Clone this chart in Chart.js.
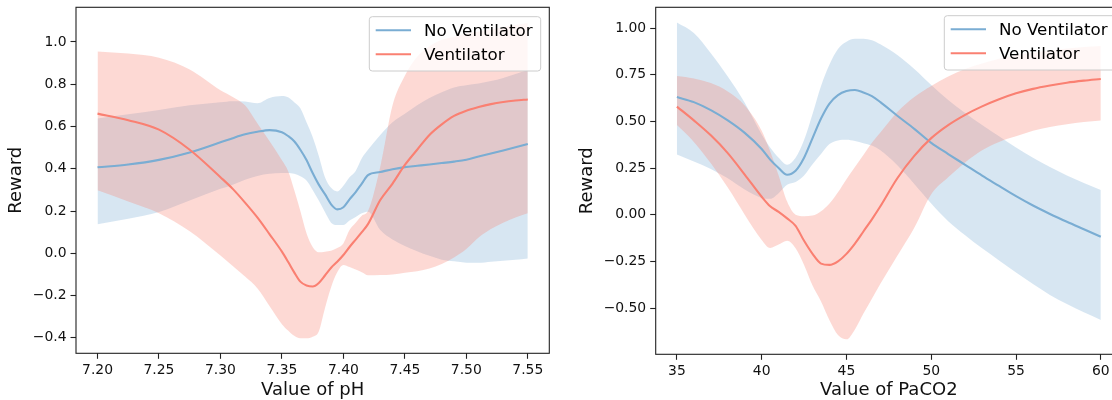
<!DOCTYPE html>
<html><head><meta charset="utf-8">
<script src="https://cdn.jsdelivr.net/npm/chart.js@4.4.0/dist/chart.umd.min.js"></script>
<style>
html,body{margin:0;padding:0;background:#fff;overflow:hidden;width:1112px;height:400px;}
#w1{position:absolute;left:0;top:0;width:556px;height:400px;}
#w2{position:absolute;left:556px;top:0;width:600px;height:400px;}
</style></head><body>
<div id="w1"><canvas id="c1" width="556" height="400"></canvas></div>
<div id="w2"><canvas id="c2" width="600" height="400"></canvas></div>
<script>
// ---------- data ----------
const seriesNames = ['No Ventilator', 'Ventilator'];

// pH panel
const phX = [7.20,7.225,7.25,7.275,7.30,7.31,7.32,7.33,7.34,7.35,7.355,7.36,7.365,7.37,7.375,7.38,7.385,7.39,7.395,7.40,7.405,7.41,7.415,7.42,7.43,7.44,7.45,7.46,7.47,7.48,7.49,7.50,7.51,7.52,7.53,7.54,7.55];
const phNoVent   = [0.407,0.42,0.442,0.477,0.525,0.545,0.563,0.575,0.583,0.573,0.555,0.53,0.49,0.441,0.38,0.325,0.28,0.232,0.208,0.218,0.255,0.29,0.33,0.37,0.385,0.398,0.408,0.414,0.42,0.427,0.434,0.443,0.458,0.472,0.487,0.502,0.517];
const phNoVentHi = [0.638,0.658,0.678,0.70,0.715,0.72,0.718,0.71,0.735,0.744,0.738,0.715,0.686,0.62,0.55,0.46,0.36,0.31,0.293,0.32,0.36,0.39,0.45,0.49,0.56,0.62,0.66,0.70,0.735,0.762,0.785,0.795,0.803,0.815,0.83,0.848,0.867];
const phNoVentLo = [0.137,0.163,0.195,0.25,0.305,0.325,0.348,0.366,0.376,0.38,0.38,0.376,0.365,0.345,0.30,0.25,0.195,0.145,0.134,0.134,0.155,0.172,0.19,0.197,0.11,0.065,0.035,0.01,-0.012,-0.03,-0.038,-0.044,-0.045,-0.04,-0.035,-0.03,-0.024];
const phVent     = [0.661,0.63,0.585,0.49,0.36,0.305,0.24,0.17,0.09,0.008,-0.04,-0.09,-0.134,-0.152,-0.157,-0.14,-0.105,-0.068,-0.04,-0.008,0.03,0.065,0.1,0.138,0.252,0.33,0.418,0.49,0.56,0.61,0.65,0.675,0.692,0.706,0.716,0.723,0.728];
const phVentHi   = [0.955,0.945,0.925,0.87,0.772,0.74,0.70,0.615,0.53,0.44,0.39,0.3,0.2,0.095,0.03,0.005,0.008,0.012,0.025,0.047,0.11,0.145,0.178,0.2,0.41,0.70,0.84,0.93,0.98,1.01,1.025,1.04,1.05,1.06,1.07,1.08,1.09];
const phVentLo   = [0.298,0.245,0.19,0.105,-0.01,-0.06,-0.11,-0.165,-0.25,-0.335,-0.365,-0.39,-0.402,-0.402,-0.395,-0.37,-0.26,-0.16,-0.09,-0.055,-0.065,-0.077,-0.09,-0.104,-0.103,-0.1,-0.092,-0.085,-0.072,-0.05,-0.02,0.02,0.075,0.115,0.145,0.17,0.19];
const phXTicks = [7.20,7.25,7.30,7.35,7.40,7.45,7.50,7.55];
const phYTicks = [-0.4,-0.2,0.0,0.2,0.4,0.6,0.8,1.0];

// PaCO2 panel
const pcX = [35,36,37,38,39,40,40.5,41,41.5,42,42.5,43,43.5,44,44.5,45,45.5,46,46.5,47,48,49,50,51,52,53,54,55,56,57,58,59,60];
const pcNoVent   = [0.63,0.603,0.56,0.505,0.438,0.352,0.295,0.25,0.214,0.235,0.305,0.41,0.515,0.595,0.64,0.662,0.668,0.655,0.635,0.603,0.53,0.46,0.385,0.325,0.267,0.209,0.154,0.099,0.049,0.004,-0.038,-0.078,-0.118];
const pcNoVentHi = [1.029,0.973,0.865,0.74,0.6,0.43,0.36,0.305,0.268,0.305,0.40,0.54,0.69,0.805,0.888,0.927,0.943,0.943,0.935,0.913,0.855,0.78,0.695,0.615,0.545,0.48,0.42,0.36,0.305,0.255,0.21,0.17,0.132];
const pcNoVentLo = [0.322,0.285,0.245,0.195,0.135,0.09,0.085,0.115,0.16,0.175,0.21,0.27,0.325,0.378,0.398,0.402,0.395,0.383,0.37,0.345,0.265,0.165,0.06,-0.035,-0.11,-0.18,-0.245,-0.31,-0.372,-0.43,-0.478,-0.523,-0.564];
const pcVent     = [0.579,0.505,0.425,0.33,0.215,0.096,0.045,0.015,-0.02,-0.06,-0.14,-0.21,-0.262,-0.269,-0.25,-0.21,-0.155,-0.09,-0.025,0.045,0.195,0.315,0.41,0.48,0.535,0.58,0.618,0.65,0.674,0.692,0.707,0.718,0.727];
const pcVentHi   = [0.743,0.73,0.705,0.66,0.585,0.45,0.34,0.21,0.07,0.0,-0.008,-0.005,0.018,0.06,0.12,0.19,0.255,0.32,0.385,0.44,0.55,0.63,0.69,0.74,0.78,0.81,0.835,0.855,0.868,0.88,0.89,0.898,0.904];
const pcVentLo   = [0.48,0.39,0.275,0.145,0.0,-0.135,-0.178,-0.16,-0.14,-0.18,-0.27,-0.38,-0.465,-0.565,-0.645,-0.668,-0.615,-0.53,-0.45,-0.37,-0.22,-0.07,0.11,0.2,0.28,0.345,0.39,0.42,0.45,0.47,0.485,0.497,0.505];
const pcXTicks = [35,40,45,50,55,60];
const pcYTicks = [-0.5,-0.25,0.0,0.25,0.5,0.75,1.0];

// ---------- styling ----------
const BLUE = 'rgb(122,173,211)';
const RED = 'rgb(250,128,114)';
const BLUE_BAND = 'rgba(122,173,211,0.3)';
const RED_BAND = 'rgba(250,128,114,0.3)';
const FONT = "'DejaVu Sans', sans-serif";
const AX = '#222222';

function pts(xs, ys) { return xs.map((x, i) => ({x: x, y: ys[i]})); }
function fmt(v, d) { return (v < -1e-9 ? '\u2212' : '') + Math.abs(v).toFixed(d); }

const framePlugin = {
  id: 'frame',
  afterDatasetsDraw(chart) {
    const {ctx, chartArea: a} = chart;
    ctx.save();
    ctx.strokeStyle = AX; ctx.lineWidth = 1.1;
    ctx.strokeRect(a.left, a.top, a.right - a.left, a.bottom - a.top);
    ctx.restore();
  }
};

const legendPlugin = {
  id: 'mplLegend',
  afterDraw(chart, args, o) {
    const ctx = chart.ctx;
    ctx.save();
    ctx.beginPath();
    ctx.roundRect(o.x, o.y, o.w, o.h, 3);
    ctx.fillStyle = 'rgba(255,255,255,0.8)'; ctx.fill();
    ctx.strokeStyle = '#cccccc'; ctx.lineWidth = 1; ctx.stroke();
    const items = chart.data.datasets.filter(d => d.inLegend);
    items.forEach((d, i) => {
      const y = o.y + o.row0 + i * o.rowGap;
      ctx.strokeStyle = d.borderColor; ctx.lineWidth = 2.1;
      ctx.beginPath(); ctx.moveTo(o.x + o.lx0, y); ctx.lineTo(o.x + o.lx1, y); ctx.stroke();
      ctx.fillStyle = '#000'; ctx.font = '16.7px ' + FONT; ctx.textBaseline = 'middle'; ctx.textAlign = 'left';
      ctx.fillText(d.label, o.x + o.tx, y + 1);
    });
    ctx.restore();
  }
};

function buildDatasets(xs, nv, nvLo, nvHi, v, vLo, vHi) {
  const band = (ys, color, fill, order) => ({data: pts(xs, ys), borderWidth: 0, pointRadius: 0, backgroundColor: color, fill: fill, order: order, cubicInterpolationMode: 'monotone'});
  return [
    band(nvLo, BLUE_BAND, false, 6),
    band(nvHi, BLUE_BAND, '-1', 6),
    band(vLo, RED_BAND, false, 5),
    band(vHi, RED_BAND, '-1', 5),
    {label: seriesNames[0], inLegend: true, data: pts(xs, nv), borderColor: BLUE, borderWidth: 2.1, pointRadius: 0, fill: false, order: 2, cubicInterpolationMode: 'monotone'},
    {label: seriesNames[1], inLegend: true, data: pts(xs, v), borderColor: RED, borderWidth: 2.1, pointRadius: 0, fill: false, order: 1, cubicInterpolationMode: 'monotone'}
  ];
}

function makeChart(id, o) {
  return new Chart(document.getElementById(id), {
    type: 'line',
    data: {datasets: o.datasets},
    plugins: [framePlugin, legendPlugin],
    options: {
      responsive: false, animation: false, devicePixelRatio: 1,
      layout: {padding: {left: 0, right: o.padRight, top: 7.3, bottom: 0}},
      plugins: {legend: {display: false}, tooltip: {enabled: false}, mplLegend: o.legend},
      scales: {
        x: {
          type: 'linear', position: 'bottom', min: o.xMin, max: o.xMax,
          afterBuildTicks: s => { s.ticks = o.xTicks.map(v => ({value: v})); },
          afterFit: s => { s.height = o.xAxisH; s.paddingLeft = 0; s.paddingRight = 0; },
          grid: {display: true, drawOnChartArea: false, drawTicks: true, tickLength: 5.5, tickWidth: 1.1, tickColor: AX},
          border: {display: false},
          ticks: {callback: v => o.xFmt(v), font: {family: FONT, size: 13.9}, color: '#111', padding: 3, maxRotation: 0, autoSkip: false},
          title: {display: true, text: o.xTitle, font: {family: FONT, size: 18, lineHeight: 1.1}, color: '#111', padding: {top: 0, bottom: 0}}
        },
        y: {
          type: 'linear', position: 'left', min: o.yMin, max: o.yMax,
          afterBuildTicks: s => { s.ticks = o.yTicks.map(v => ({value: v})); },
          afterFit: s => { s.width = o.yAxisW; s.paddingTop = 0; s.paddingBottom = 0; },
          grid: {display: true, drawOnChartArea: false, drawTicks: true, tickLength: 5.5, tickWidth: 1.1, tickColor: AX},
          border: {display: false},
          ticks: {callback: v => o.yFmt(v), font: {family: FONT, size: 13.9}, color: '#111', padding: 4, autoSkip: false},
          title: {display: true, text: 'Reward', font: {family: FONT, size: 18, lineHeight: 1.1}, color: '#111', padding: {top: o.yTitlePad, bottom: 0}}
        }
      }
    }
  });
}

makeChart('c1', {
  datasets: buildDatasets(phX, phNoVent, phNoVentLo, phNoVentHi, phVent, phVentLo, phVentHi),
  xMin: 7.1825, xMax: 7.5675, yMin: -0.473, yMax: 1.164,
  xTicks: phXTicks, yTicks: phYTicks,
  xFmt: v => fmt(v, 2), yFmt: v => fmt(v, 1),
  xTitle: 'Value of pH', padRight: 6.7, xAxisH: 46.7, yAxisW: 76, yTitlePad: 6,
  legend: {x: 369.3, y: 16.7, w: 171.4, h: 54.3, row0: 13.6, rowGap: 24, lx0: 6.4, lx1: 41.7, tx: 54.7}
});

makeChart('c2', {
  datasets: buildDatasets(pcX, pcNoVent, pcNoVentLo, pcNoVentHi, pcVent, pcVentLo, pcVentHi),
  xMin: 33.75, xMax: 61.25, yMin: -0.748, yMax: 1.111,
  xTicks: pcXTicks, yTicks: pcYTicks,
  xFmt: v => String(Math.round(v)), yFmt: v => fmt(v, 2),
  xTitle: 'Value of PaCO2', padRight: 34, xAxisH: 45.7, yAxisW: 99.7, yTitlePad: 21,
  legend: {x: 388.3, y: 15.7, w: 171.4, h: 54.3, row0: 13.6, rowGap: 24, lx0: 6.4, lx1: 41.7, tx: 54.7}
});
</script>
</body></html>
